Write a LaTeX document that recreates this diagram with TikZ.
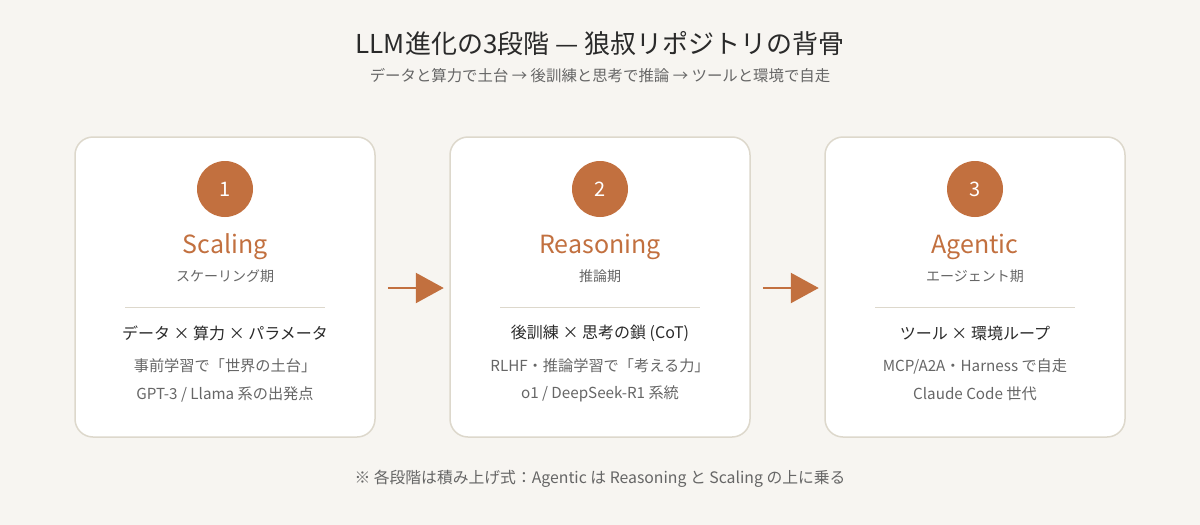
\documentclass[tikz,border=0pt]{standalone}
\usepackage{fontspec}
\setmainfont{Noto Sans CJK JP}
\usetikzlibrary{arrows.meta}
\definecolor{bg}{HTML}{F7F5F1}
\definecolor{acc}{HTML}{C2703F}
\definecolor{bd}{HTML}{DDD8CC}
\definecolor{tx}{HTML}{2A2A2A}
\definecolor{gr}{HTML}{666666}
\tikzset{
 card/.style={draw=bd,line width=1.5pt,fill=white,rounded corners=18pt,minimum width=300pt,minimum height=300pt},
 num/.style={circle,fill=acc,minimum size=56pt,text=white,font=\fontsize{20}{22}\selectfont},
 ttl/.style={text=acc,font=\fontsize{25}{28}\selectfont},
 sub/.style={text=gr,font=\fontsize{14}{16}\selectfont},
 key/.style={text=tx,font=\fontsize{16}{18}\selectfont},
 desc/.style={text=gr,font=\fontsize{15.2}{17}\selectfont},
 flow/.style={draw=acc,line width=2.5pt,-{Triangle[length=28pt,width=30pt]}}
}
\begin{document}
\begin{tikzpicture}[x=1pt,y=-1pt]
\path[fill=bg] (0,0) rectangle (1200,525);
\useasboundingbox (0,0) rectangle (1200,525);
\node[text=tx,font=\fontsize{26}{30}\selectfont] (title) at (600,44) {LLM進化の3段階 — 狼叔リポジトリの背骨};
\node[sub,font=\fontsize{15.4}{18}\selectfont] (subtitle) at (600,76) {データと算力で土台 → 後訓練と思考で推論 → ツールと環境で自走};
\foreach \i/\cx/\n/\t/\s/\k/\da/\db in {
 1/225/1/Scaling/スケーリング期/{データ × 算力 × パラメータ}/{事前学習で「世界の土台」}/{GPT-3 / Llama 系の出発点},
 2/600/2/Reasoning/推論期/{後訓練 × 思考の鎖 (CoT)}/{RLHF・推論学習で「考える力」}/{o1 / DeepSeek-R1 系統},
 3/975/3/Agentic/エージェント期/{ツール × 環境ループ}/{MCP/A2A・Harness で自走}/{Claude Code 世代}}{
 \node[card] (card\i) at (\cx,287) {};
 \node[num] (num\i) at (\cx,189) {\n};
 \node[ttl] (ttl\i) at (\cx,247) {\t};
 \node[sub] (sub\i) at (\cx,276) {\s};
 \draw[bd,line width=0.8pt] (\cx-100,307) -- (\cx+100,307);
 \node[key] (key\i) at (\cx,333) {\k};
 \node[desc] (da\i) at (\cx,366) {\da};
 \node[desc] (db\i) at (\cx,394) {\db};
}
\draw[flow] (card1.east)++(12,1) -- ++(56,0);
\draw[flow] (card2.east)++(12,1) -- ++(56,0);
\node[sub,font=\fontsize{15.8}{18}\selectfont] (foot) at (600,479) {※ 各段階は積み上げ式：Agentic は Reasoning と Scaling の上に乗る};
\end{tikzpicture}
\end{document}
